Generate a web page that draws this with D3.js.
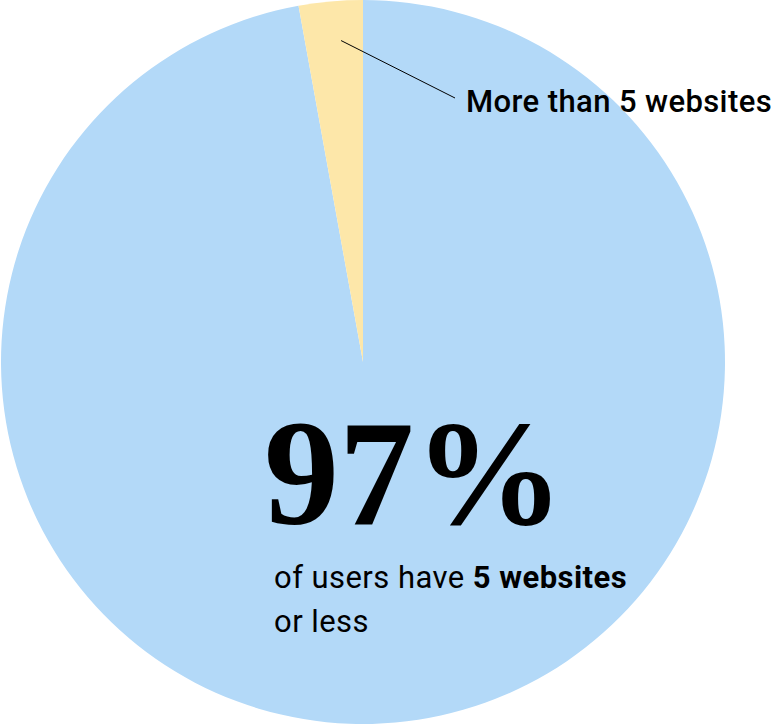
<!DOCTYPE html>
<html><head><meta charset="utf-8">
<script src="https://cdn.jsdelivr.net/npm/d3@7"></script>
<style>html,body{margin:0;padding:0;background:#fff;}svg{display:block;}</style>
</head><body>
<script>
const categories = ["5 websites or less", "More than 5 websites"];
const values = [97.15, 2.85];
const colors = ["#b3d9f8", "#fde7a9"];
const bigLabel = "97%";

const W = 781, H = 725;
const svg = d3.select("body").append("svg").attr("width", W).attr("height", H);
const cx = 363, cy = 362, r = 362;
const g = svg.append("g").attr("transform", `translate(${cx},${cy})`);

const pie = d3.pie().sort(null).value(d => d.v);
const data = pie(categories.map((c, i) => ({c, v: values[i]})));
const arc = d3.arc().innerRadius(0).outerRadius(r);
g.selectAll("path").data(data).join("path")
  .attr("d", arc).attr("fill", (d, i) => colors[i]);

// leader line from small slice
const small = data[1];
const a = small.startAngle + (small.endAngle - small.startAngle) * 0.62;
const rr = r * 0.89;
g.append("line")
  .attr("x1", rr * Math.sin(a)).attr("y1", -rr * Math.cos(a))
  .attr("x2", 455 - cx).attr("y2", 98 - cy)
  .attr("stroke", "#000").attr("stroke-width", 1);

svg.append("text").attr("x", 466).attr("y", 112)
  .attr("font-family", "Roboto").attr("font-weight", 500).attr("font-size", 31)
  .attr("letter-spacing", 0.4)
  .attr("fill", "#000").text(categories[1]);

svg.append("text").attr("x", 264).attr("y", 524)
  .attr("font-family", "Liberation Serif").attr("font-weight", 700).attr("font-size", 150)
  .attr("fill", "#000").text(bigLabel);

const t1 = svg.append("text").attr("x", 274).attr("y", 588)
  .attr("font-family", "Roboto").attr("font-size", 31).attr("letter-spacing", 0.45).attr("fill", "#000");
t1.append("tspan").text("of users have ");
t1.append("tspan").attr("font-weight", 700).text("5 websites");
svg.append("text").attr("x", 274).attr("y", 632)
  .attr("font-family", "Roboto").attr("font-size", 31).attr("letter-spacing", 0.45)
  .attr("fill", "#000").text("or less");
</script>
</body></html>
